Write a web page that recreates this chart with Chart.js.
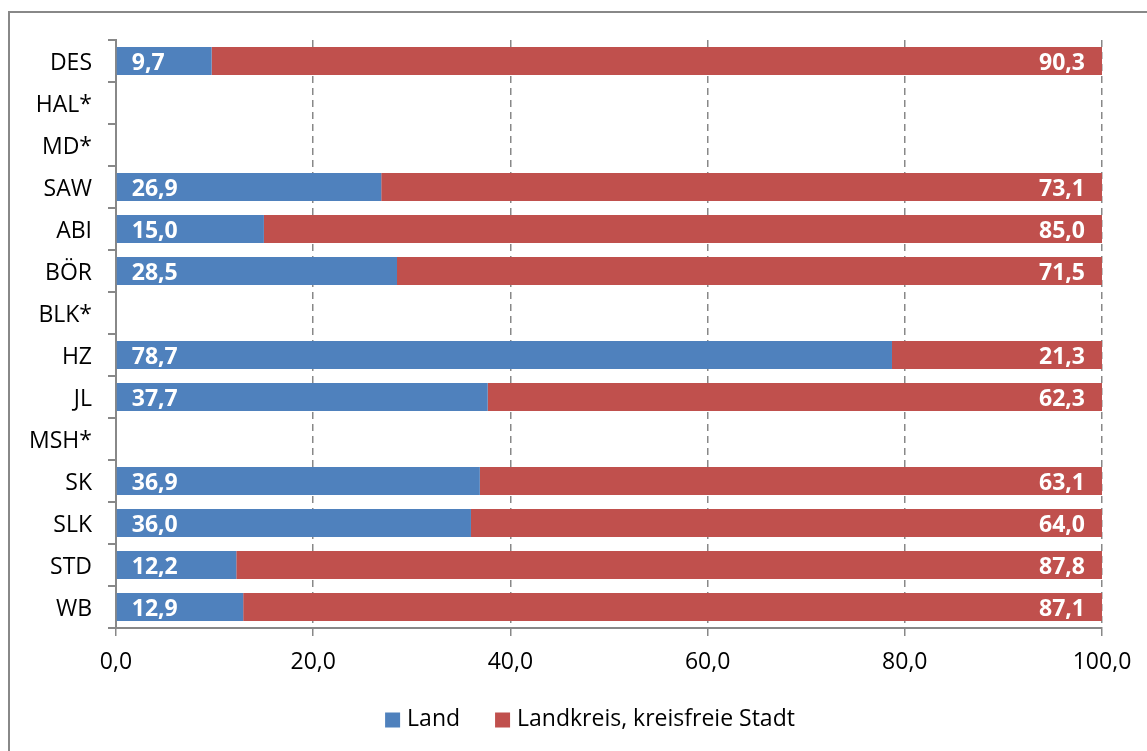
<!DOCTYPE html>
<html>
<head>
<meta charset="utf-8">
<script src="https://cdn.jsdelivr.net/npm/chart.js@4.4.1/dist/chart.umd.min.js"></script>
<style>
  html, body { margin: 0; padding: 0; background: #fff; overflow: hidden; }
  #wrap { position: relative; width: 1147px; height: 751px; }
  #frame { position: absolute; left: 8px; top: 11px; width: 1160px; height: 760px;
           border: 2px solid #888; box-sizing: border-box; }
  canvas { position: absolute; left: 0; top: 0; }
</style>
</head>
<body>
<div id="wrap">
  <div id="frame"></div>
  <canvas id="chart" width="1147" height="751"></canvas>
</div>
<script>
// Kreise / kreisfreie Städte (leere = keine Angabe)
const regions = ['DES', 'HAL*', 'MD*', 'SAW', 'ABI', 'BÖR', 'BLK*', 'HZ', 'JL', 'MSH*', 'SK', 'SLK', 'STD', 'WB'];
const landShare  = [9.7, null, null, 26.9, 15.0, 28.5, null, 78.7, 37.7, null, 36.9, 36.0, 12.2, 12.9];
const kreisShare = [90.3, null, null, 73.1, 85.0, 71.5, null, 21.3, 62.3, null, 63.1, 64.0, 87.8, 87.1];
const xTicks = [0, 20, 40, 60, 80, 100];

const FONT = 'Open Sans';
const fmt = v => v.toFixed(1).replace('.', ',');

// white value labels inside the bars
const barLabels = {
  id: 'barLabels',
  afterDatasetsDraw(chart) {
    const ctx = chart.ctx;
    ctx.save();
    ctx.fillStyle = '#ffffff';
    ctx.font = `bold 23px "${FONT}"`;
    ctx.textBaseline = 'middle';
    chart.data.datasets.forEach((ds, di) => {
      const meta = chart.getDatasetMeta(di);
      meta.data.forEach((el, i) => {
        const v = ds.data[i];
        if (v == null) return;
        if (di === 0) {
          ctx.textAlign = 'left';
          ctx.fillText(fmt(v), el.base + 15, el.y + 2);
        } else {
          ctx.textAlign = 'right';
          ctx.fillText(fmt(v), el.x - 17, el.y + 2);
        }
      });
    });
    ctx.restore();
  }
};

// legend drawn by hand so it sits where the original one does
const bottomLegend = {
  id: 'bottomLegend',
  afterDraw(chart) {
    const ctx = chart.ctx;
    const box = 15, gapText = 7, gapItem = 35;
    const centerX = 590, centerY = 719;
    ctx.save();
    ctx.font = `23px "${FONT}"`;
    ctx.textBaseline = 'middle';
    ctx.textAlign = 'left';
    const items = chart.data.datasets.map(ds => ({
      text: ds.label, color: ds.backgroundColor, w: ctx.measureText(ds.label).width
    }));
    const total = items.reduce((s, it) => s + box + gapText + it.w, 0) + gapItem * (items.length - 1);
    let x = centerX - total / 2;
    items.forEach(it => {
      ctx.fillStyle = it.color;
      ctx.fillRect(x, centerY - box / 2 + 1, box, box);
      ctx.fillStyle = '#000';
      ctx.fillText(it.text, x + box + gapText, centerY);
      x += box + gapText + it.w + gapItem;
    });
    ctx.restore();
  }
};

new Chart(document.getElementById('chart'), {
  type: 'bar',
  data: {
    labels: regions,
    datasets: [
      {
        label: 'Land',
        data: landShare,
        backgroundColor: '#4F81BD',
        barPercentage: 0.67,
        categoryPercentage: 1.0
      },
      {
        label: 'Landkreis, kreisfreie Stadt',
        data: kreisShare,
        backgroundColor: '#C0504D',
        barPercentage: 0.67,
        categoryPercentage: 1.0
      }
    ]
  },
  options: {
    indexAxis: 'y',
    responsive: false,
    animation: false,
    layout: { padding: { top: 40, right: 45, left: 0, bottom: 0 } },
    plugins: {
      legend: { display: false },
      tooltip: { enabled: false }
    },
    scales: {
      x: {
        stacked: true,
        min: 0,
        max: 100,
        afterBuildTicks: scale => { scale.ticks = xTicks.map(v => ({ value: v })); },
        afterFit: scale => { scale.height = 123; },
        ticks: {
          color: '#000',
          font: { family: FONT, size: 23 },
          padding: 13,
          callback: v => fmt(v)
        },
        grid: { color: '#888', lineWidth: 1.5, tickLength: 8 },
        border: { color: '#888', width: 2, dash: [7, 5] }
      },
      y: {
        stacked: true,
        afterFit: scale => { scale.width = 116; },
        ticks: {
          color: '#000',
          font: { family: FONT, size: 23 },
          padding: 16,
          labelOffset: 2
        },
        grid: { drawOnChartArea: false, color: '#888', lineWidth: 2, tickLength: 8, offset: true },
        border: { color: '#888', width: 2 }
      }
    }
  },
  plugins: [barLabels, bottomLegend]
});
</script>
</body>
</html>
